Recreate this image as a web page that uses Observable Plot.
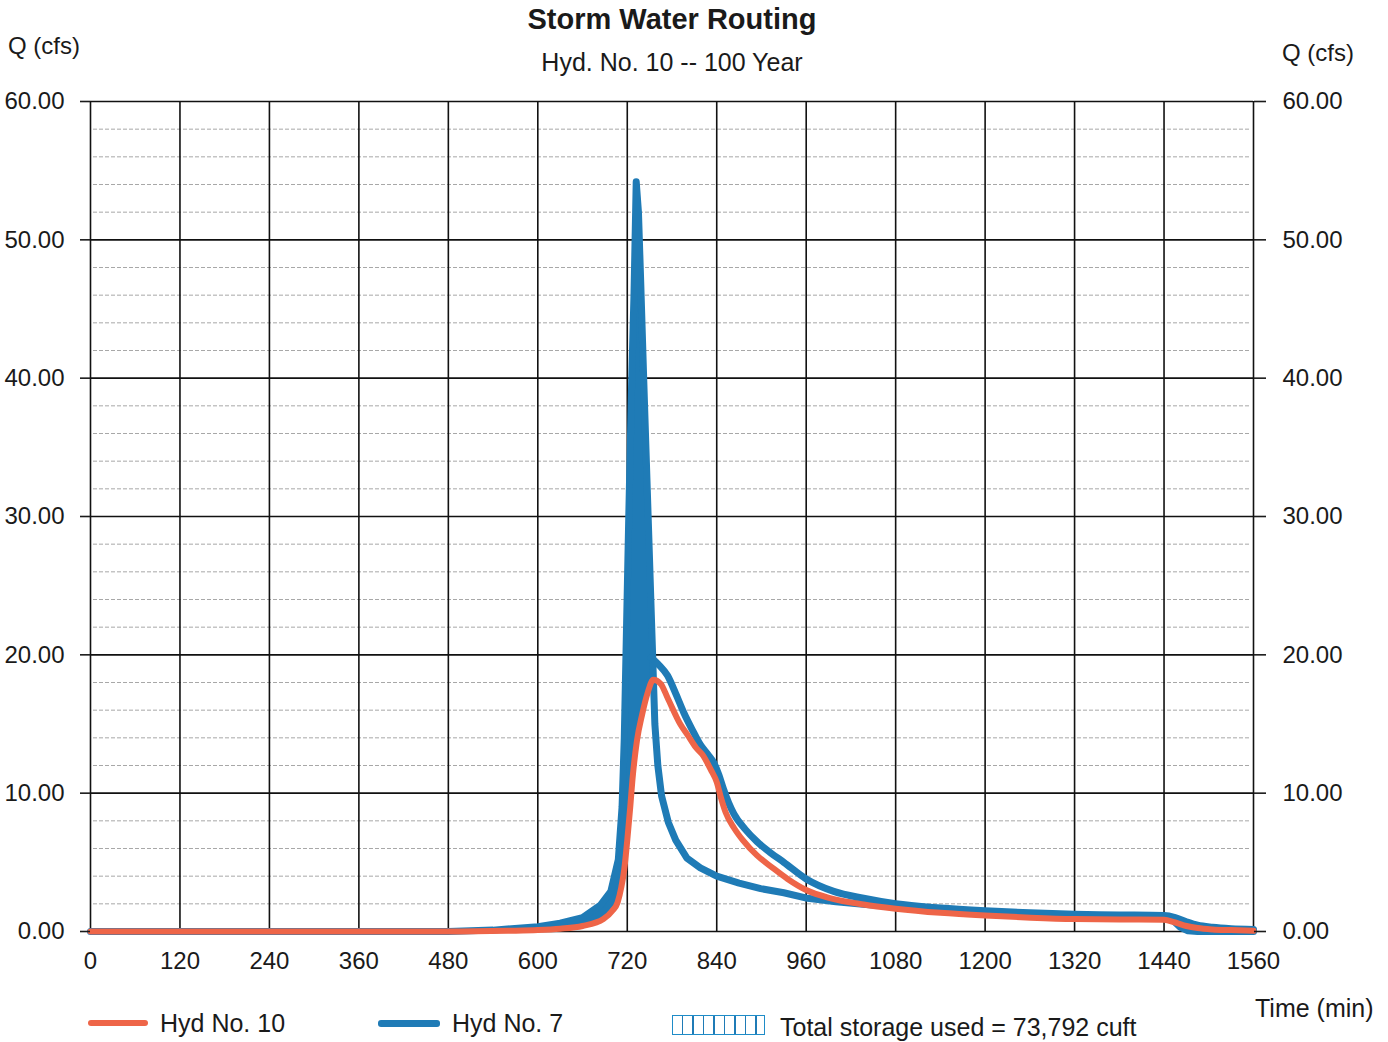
<!DOCTYPE html>
<html><head><meta charset="utf-8">
<script src="https://cdn.jsdelivr.net/npm/d3@7"></script>
<script src="https://cdn.jsdelivr.net/npm/@observablehq/plot@0.6"></script>
<style>
body{margin:0;background:#fff;}
#wrap{position:relative;width:1388px;height:1042px;font-family:"Liberation Sans",Arial,sans-serif;color:#1a1a1a;overflow:hidden;background:#fff;}
.t{position:absolute;white-space:nowrap;line-height:1;}
#chart{position:absolute;left:0;top:0;}
.sw{position:absolute;height:6px;border-radius:3px;}
</style></head><body><div id="wrap">
<div id="chart"></div>
<div class="t" style="left:0;width:1344px;text-align:center;top:5px;font-size:29px;font-weight:bold;">Storm Water Routing</div>
<div class="t" style="left:0;width:1344px;text-align:center;top:50px;font-size:25px;">Hyd. No. 10 -- 100 Year</div>
<div class="t" style="left:8px;top:34px;font-size:24px;">Q (cfs)</div>
<div class="t" style="left:1282px;top:41px;font-size:24px;">Q (cfs)</div>
<div class="t" style="left:1255px;top:996px;font-size:25px;">Time (min)</div>
<div class="sw" style="left:88px;top:1020px;width:60px;background:#ee6548;"></div>
<div class="t" style="left:160px;top:1011px;font-size:25px;">Hyd No. 10</div>
<div class="sw" style="left:378px;top:1020px;width:62px;background:#1f7bb6;height:7px;"></div>
<div class="t" style="left:452px;top:1011px;font-size:25px;">Hyd No. 7</div>
<div style="position:absolute;left:672px;top:1015px;width:91px;height:18px;border:1.5px solid #1f8cc8;background:repeating-linear-gradient(90deg, transparent 0 9px, #1f7bb6 9px 10.5px);"></div>
<div class="t" style="left:780px;top:1015px;font-size:25px;">Total storage used = 73,792 cuft</div>
</div>
<script>
// ---- data ----
const xTicks = [0,120,240,360,480,600,720,840,960,1080,1200,1320,1440,1560];
const yTicks = [0,10,20,30,40,50,60];
const yMinor = [2,4,6,8,12,14,16,18,22,24,26,28,32,34,36,38,42,44,46,48,52,54,56,58];

// Hyd No. 10 (outflow)
const t10 = [0,480,560,600,630,660,688,700,707,712,716,720,724,727,733,740,747,755,765,774,791,801,812,822,832,840,846,852,863,875,894,915,935,960,993,1037,1080,1140,1200,1261,1320,1380,1440,1455,1470,1485,1505,1530,1560];
const q10 = [0,0,0.05,0.1,0.2,0.4,0.9,1.5,2.1,3.2,4.5,6.6,9.0,11,13.8,15.7,17.2,18.2,17.9,16.9,15.0,14.2,13.3,12.7,11.7,10.8,9.6,8.6,7.5,6.6,5.5,4.6,3.8,3.0,2.4,1.95,1.65,1.35,1.15,1.0,0.9,0.87,0.85,0.65,0.4,0.25,0.15,0.1,0.05];

// Hyd No. 7 (inflow)
const t7 = [0,480,540,600,630,660,684,698,708,713,716,719,722,726,729,732,735,738,742,748,754,757,761,766,775,785,800,818,840,870,899,930,962,1000,1040,1080,1140,1200,1320,1440,1452,1462,1472,1485,1560];
const q7 = [0,0,0.1,0.35,0.6,1.0,1.9,2.9,5.2,9.0,14,22,30,40,46,54.2,52,47,40,30,20,15,12,9.8,7.9,6.6,5.3,4.6,4.0,3.5,3.1,2.8,2.4,2.15,1.95,1.8,1.6,1.4,1.15,1.05,0.8,0.3,0.05,0,0];

// upper edge of the storage band (blue, above the outflow on the recession)
const tBand = [752,762,774,785,796,807,818,828,836,843,849,856,863,878,894,912,930,960,997,1037,1080,1140,1200,1260,1320,1380,1440,1455,1470,1485,1505,1530,1560];
const qBand = [19.8,19.3,18.5,17.2,15.8,14.6,13.5,12.8,12.2,11.3,10.3,9.3,8.5,7.4,6.5,5.7,5.0,3.8,2.9,2.4,2.0,1.7,1.5,1.35,1.25,1.2,1.15,1.0,0.7,0.45,0.3,0.2,0.15];

const RED = "#ee6548", BLUE = "#1f7bb6";

const out = t10.map((t,i)=>({t, q:q10[i]}));
const inf = t7.map((t,i)=>({t, q:q7[i]}));
const band = tBand.map((t,i)=>({t, q:qBand[i]}));
// storage polygon: inflow rising limb + peak, then outflow back
const storage = inf.filter(d=>d.t>=540 && d.t<=754)
  .concat(out.filter(d=>d.t>=540 && d.t<=755).reverse());

const fmt = d=>d.toFixed(2);
const chart = Plot.plot({
  width:1388, height:990,
  marginLeft:90, marginRight:135, marginTop:101, marginBottom:59,
  x:{domain:[0,1560]}, y:{domain:[0,60]},
  style:{fontFamily:'"Liberation Sans",Arial,sans-serif', fontSize:"24px", color:"#1a1a1a", background:"transparent"},
  marks:[
    Plot.ruleY(yMinor,{stroke:"#a8a8a8",strokeWidth:1,strokeDasharray:"4,2",insetLeft:3,insetRight:3}),
    Plot.ruleX(xTicks,{stroke:"#111",strokeWidth:1.6}),
    Plot.ruleY(yTicks,{stroke:"#111",strokeWidth:1.6}),
    Plot.line(storage,{x:"t",y:"q",fill:BLUE,stroke:BLUE,strokeWidth:2,strokeLinejoin:"round"}),
    Plot.line(inf,{x:"t",y:"q",stroke:BLUE,strokeWidth:7,strokeLinejoin:"round",strokeLinecap:"round"}),
    Plot.line(band,{x:"t",y:"q",stroke:BLUE,strokeWidth:7,curve:"monotone-x",strokeLinejoin:"round",strokeLinecap:"round"}),
    Plot.line(out,{x:"t",y:"q",stroke:RED,strokeWidth:6,curve:"monotone-x",strokeLinejoin:"round",strokeLinecap:"round"}),
    Plot.axisY(yTicks,{anchor:"left",tickSize:10,tickPadding:16,tickFormat:fmt,label:null,strokeWidth:1.6}),
    Plot.axisY(yTicks,{anchor:"right",tickSize:12,tickPadding:17,tickFormat:fmt,label:null,strokeWidth:1.6}),
    Plot.axisX(xTicks,{anchor:"bottom",tickSize:0,tickPadding:20,tickFormat:d=>String(d),label:null})
  ]
});
document.getElementById("chart").appendChild(chart);
</script>
</body></html>
